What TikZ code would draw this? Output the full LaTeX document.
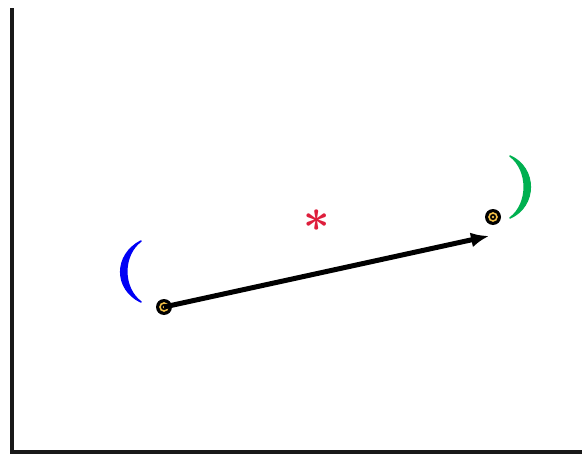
\documentclass[tikz,border=0pt]{standalone}
\usepackage{graphicx}
\usepackage{bm}
\usetikzlibrary{arrows.meta}
\definecolor{pblue}{RGB}{0,0,245}
\definecolor{pgreen}{RGB}{0,176,80}
\definecolor{pred}{RGB}{222,30,60}
\definecolor{pyel}{RGB}{240,190,70}
\definecolor{axis}{RGB}{25,25,25}
\begin{document}
\begin{tikzpicture}[x=1pt,y=-1pt,
  axisline/.style={draw=axis,line width=4.5pt},
  dotpt/.style={circle,fill=black,minimum size=16pt,inner sep=0pt,
    path picture={\draw[pyel,line width=1.6pt] (path picture bounding box.center) circle[radius=4pt];
                  \fill[pyel] (path picture bounding box.center) circle[radius=1.4pt];}},
  vec/.style={line width=5pt,-{Latex[length=18pt,width=15pt]}},
  paren/.style={line width=1.6pt,line join=round}]
\useasboundingbox (0,0) rectangle (582,455);
\coordinate (ytop) at (12,8);
\coordinate (xend) at (584,452);
\draw[axisline] (ytop) -- (12,454) (10,452) -- (xend);
\node[dotpt] (a) at (164,307) {};
\node[dotpt] (b) at (493,217) {};
\coordinate (tip) at (489,236);
\draw[vec] (a.center) -- (tip);
\draw[paren,pblue,fill=pblue] (141,241) .. controls (114,255) and (114,289) .. (141,302)
   .. controls (122,288) and (122,255) .. cycle;
\draw[paren,pgreen,fill=pgreen] (510,156) .. controls (537,168) and (537,206) .. (510,218)
   .. controls (529,204) and (529,170) .. cycle;
\node[text=pred,inner sep=0pt] (star) at (317,221) {\scalebox{4.6}{$\bm{\ast}$}};
\end{tikzpicture}
\end{document}
